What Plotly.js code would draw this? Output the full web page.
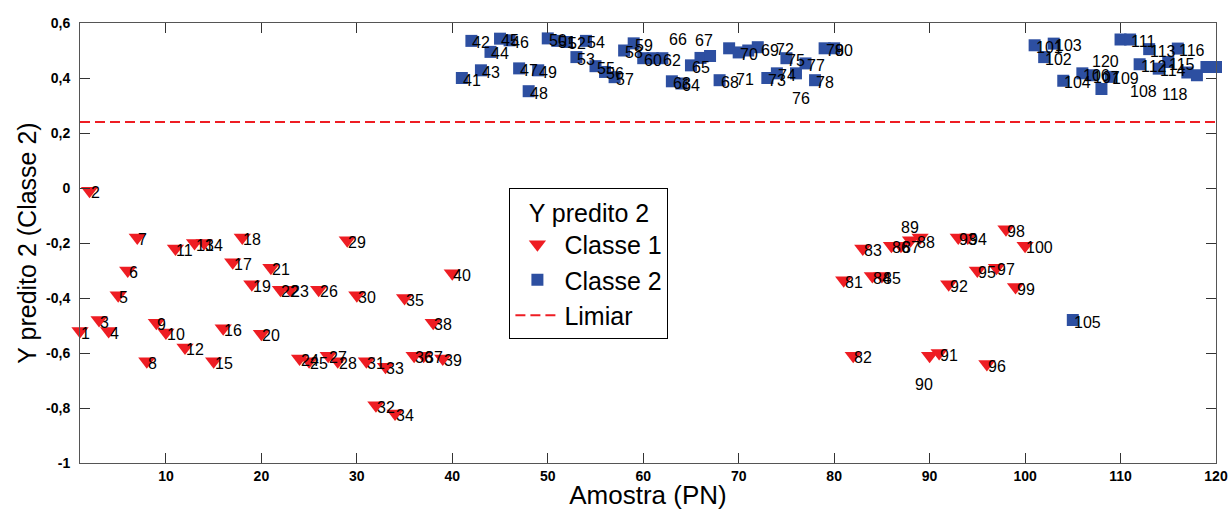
<!DOCTYPE html>
<html>
<head>
<meta charset="utf-8">
<script src="https://cdn.plot.ly/plotly-3.0.1.min.js"></script>
<style>html,body{margin:0;padding:0;background:#fff;}#chart{width:1232px;height:510px;}</style>
</head>
<body>
<div id="chart"></div>
<script>
// Classe 1 (red triangles): sample index and predicted value
var classe1X = [1,2,3,4,5,6,7,8,9,10,11,12,13,14,15,16,17,18,19,20,21,22,23,24,25,26,27,28,29,30,31,32,33,34,35,36,37,38,39,40,
                81,82,83,84,85,86,87,88,89,90,91,92,93,94,95,96,97,98,99,100];
var classe1Y = [-0.52,-0.01,-0.48,-0.52,-0.39,-0.30,-0.18,-0.63,-0.49,-0.525,-0.22,-0.58,-0.20,-0.20,-0.63,-0.51,-0.27,-0.18,-0.35,-0.53,
                -0.29,-0.37,-0.37,-0.62,-0.63,-0.37,-0.61,-0.63,-0.19,-0.39,-0.63,-0.79,-0.65,-0.82,-0.40,-0.61,-0.61,-0.49,-0.62,-0.31,
                -0.335,-0.61,-0.22,-0.32,-0.32,-0.21,-0.21,-0.19,-0.18,-0.61,-0.60,-0.35,-0.18,-0.18,-0.30,-0.64,-0.29,-0.15,-0.36,-0.21];
// Classe 2 (blue squares)
var classe2X = [41,42,43,44,45,46,47,48,49,50,51,52,53,54,55,56,57,58,59,60,61,62,63,64,65,66,67,68,69,70,71,72,73,74,75,76,77,78,79,80,
                101,102,103,104,105,106,107,108,109,110,111,112,113,114,115,116,117,118,119,120];
var classe2Y = [0.40,0.535,0.428,0.495,0.543,0.537,0.435,0.352,0.428,0.544,0.535,0.531,0.476,0.535,0.443,0.422,0.403,0.50,0.526,0.472,
                0.472,0.472,0.388,0.38,0.446,0.473,0.48,0.392,0.508,0.493,0.50,0.512,0.40,0.417,0.472,0.417,0.453,0.392,0.508,0.508,
                0.519,0.476,0.525,0.39,-0.48,0.417,0.41,0.36,0.404,0.54,0.54,0.45,0.505,0.434,0.458,0.507,0.42,0.41,0.44,0.44];
var limiar = 0.24;
var xRange = [1, 120];
var yRange = [-1, 0.6];
var xTickVals = [10,20,30,40,50,60,70,80,90,100,110,120];
var yTickVals = [-1,-0.8,-0.6,-0.4,-0.2,0,0.2,0.4,0.6];
var yTickText = ['-1','-0,8','-0,6','-0,4','-0,2','0','0,2','0,4','0,6'];

// label placement tweaks (pixels) and labels hidden under later markers
var labelShift = {66:[-33,20],67:[-16,18],69:[31,0],71:[-13,-27],72:[17,0],76:[-5,-23],88:[5,0],
                  89:[-20,12],90:[-16,-27],108:[28,0],118:[-36,-17],120:[-125,8]};
var hiddenLabels = [61,110,117,119];

var red = '#EE1D23', blue = '#2D4FA1';
var font = 'Arial, "Liberation Sans", sans-serif';

var traces = [
  {x: classe1X, y: classe1Y, mode: 'markers', type: 'scatter', name: 'Classe 1', cliponaxis: false,
   marker: {symbol: 'triangle-down', size: 15, color: red}},
  {x: classe2X, y: classe2Y, mode: 'markers', type: 'scatter', name: 'Classe 2', cliponaxis: false,
   marker: {symbol: 'square', size: 12, color: blue}},
  {x: xRange, y: [limiar, limiar], mode: 'lines', type: 'scatter', name: 'Limiar',
   line: {color: red, width: 2, dash: '10px,5px'}}
];

var annotations = [];
function addLabels(xs, ys) {
  for (var i = 0; i < xs.length; i++) {
    var n = xs[i];
    if (hiddenLabels.indexOf(n) >= 0) continue;
    var s = labelShift[n] || [0, 0];
    annotations.push({x: n, y: ys[i], xref: 'x', yref: 'y', text: String(n), showarrow: false,
      xanchor: 'left', yanchor: 'middle', xshift: 0 + s[0], yshift: -2 + s[1],
      borderpad: 0, font: {family: font, size: 16, color: '#000'}});
  }
}
addLabels(classe1X, classe1Y);
addLabels(classe2X, classe2Y);

var layout = {
  width: 1232, height: 510,
  margin: {l: 80, r: 16, t: 23, b: 47},
  paper_bgcolor: '#fff', plot_bgcolor: '#fff',
  showlegend: true,
  legend: {x: 0.378, y: 0.625, xanchor: 'left', yanchor: 'top',
    bordercolor: '#000', borderwidth: 1, bgcolor: '#fff', itemwidth: 44,
    entrywidth: 190, entrywidthmode: 'pixels',
    font: {family: font, size: 25, color: '#000'},
    title: {text: 'Y predito 2', side: 'top center', font: {family: font, size: 25, color: '#000'}}},
  xaxis: {range: xRange, tickvals: xTickVals, ticks: 'inside', ticklen: 10, tickcolor: '#333',
    showline: true, linecolor: '#555', linewidth: 1, mirror: 'ticks', showgrid: false, zeroline: false,
    tickfont: {family: font, size: 14, color: '#000', weight: 'bold'},
    title: {text: 'Amostra (PN)', font: {family: font, size: 26, color: '#000'}, standoff: 2}},
  yaxis: {range: yRange, tickvals: yTickVals, ticktext: yTickText, ticks: 'inside', ticklen: 10, tickcolor: '#333',
    showline: true, linecolor: '#555', linewidth: 1, mirror: 'ticks', showgrid: false, zeroline: false,
    ticklabelstandoff: 6,
    tickfont: {family: font, size: 14, color: '#000', weight: 'bold'},
    title: {text: 'Y predito 2 (Classe 2)', font: {family: font, size: 25, color: '#000'}, standoff: 2}},
  annotations: annotations
};

Plotly.newPlot('chart', traces, layout, {displayModeBar: false, staticPlot: true});
</script>
</body>
</html>
